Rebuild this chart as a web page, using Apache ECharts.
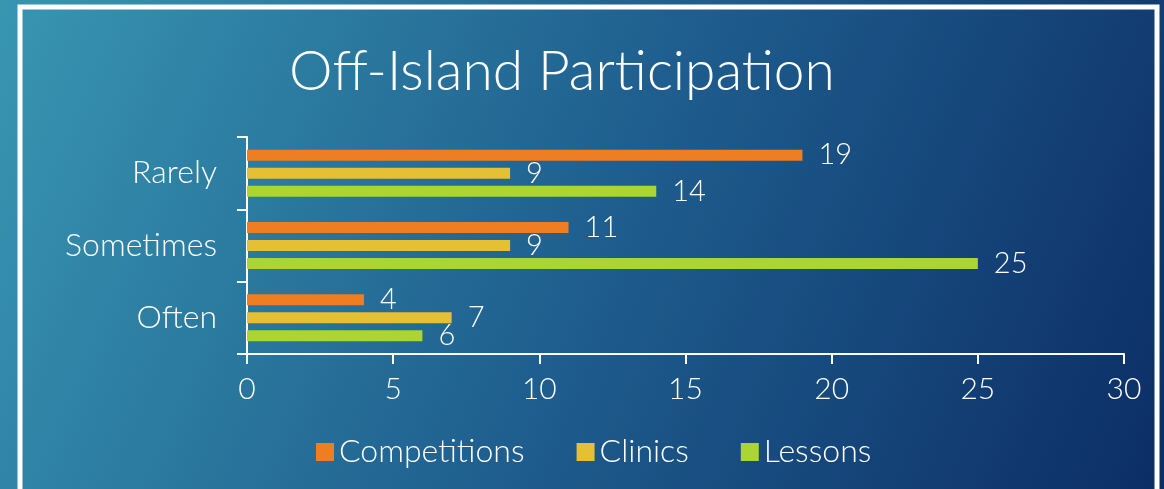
<!DOCTYPE html>
<html>
<head>
<meta charset="utf-8">
<title>Off-Island Participation</title>
<script src="https://cdn.jsdelivr.net/npm/echarts@6/dist/echarts.min.js"></script>
<style>
    html, body {
        margin: 0;
        padding: 0;
        width: 1164px;
        height: 489px;
        overflow: hidden;
    }
    #participationChart {
        width: 1164px;
        height: 489px;
    }
</style>
</head>
<body>
<div id="participationChart"></div>
<script>
// categories, bottom to top as the y axis draws them
const categories = ['Often', 'Sometimes', 'Rarely'];
const competitions = [4, 11, 19];
const clinics = [7, 9, 9];
const lessons = [6, 25, 14];
const xTicks = [0, 5, 10, 15, 20, 25, 30];

const FONT = 'Lato, "Noto Sans", sans-serif';
const TEXT = '#ffffff';

const chartDom = document.getElementById('participationChart');
const chart = echarts.init(chartDom, null, { renderer: 'canvas' });

const makeSeries = (name, data, color) => ({
    name: name,
    type: 'bar',
    data: data,
    barWidth: 11,
    barGap: '64%',
    itemStyle: {
        color: color
    },
    label: {
        show: true,
        position: 'right',
        distance: 16,
        color: TEXT,
        fontFamily: FONT,
        fontWeight: 300,
        fontSize: 29
    }
});

const option = {
    backgroundColor: new echarts.graphic.LinearGradient(0, 0, 1, 1, [
        { offset: 0, color: '#3896b1' },
        { offset: 0.5, color: '#1f5f8f' },
        { offset: 1, color: '#0c2d66' }
    ]),
    animation: false,
    textStyle: {
        fontFamily: FONT
    },
    graphic: [
        {
            type: 'rect',
            shape: { x: 20, y: 7, width: 1137, height: 520 },
            style: { fill: 'none', stroke: '#ffffff', lineWidth: 5 },
            silent: true
        }
    ],
    title: {
        text: 'Off-Island Participation',
        left: 284,
        top: 40,
        textStyle: {
            color: TEXT,
            fontFamily: FONT,
            fontWeight: 300,
            fontSize: 55
        }
    },
    legend: {
        data: ['Competitions', 'Clinics', 'Lessons'],
        left: 311,
        top: 431,
        icon: 'rect',
        itemWidth: 18,
        itemHeight: 18,
        itemGap: 52,
        textStyle: {
            color: TEXT,
            fontFamily: FONT,
            fontWeight: 300,
            fontSize: 32
        }
    },
    grid: {
        left: 247,
        right: 40,
        top: 137,
        bottom: 135
    },
    xAxis: {
        type: 'value',
        min: xTicks[0],
        max: xTicks[xTicks.length - 1],
        interval: 5,
        splitLine: { show: false },
        axisLine: {
            show: true,
            lineStyle: { color: '#ffffff', width: 2 }
        },
        axisTick: {
            show: true,
            length: 10,
            lineStyle: { color: '#ffffff', width: 2 }
        },
        axisLabel: {
            color: TEXT,
            fontFamily: FONT,
            fontWeight: 300,
            fontSize: 30,
            margin: 20
        }
    },
    yAxis: {
        type: 'category',
        data: categories,
        axisLine: {
            show: true,
            lineStyle: { color: '#ffffff', width: 2 }
        },
        axisTick: {
            show: true,
            length: 10,
            lineStyle: { color: '#ffffff', width: 2 }
        },
        axisLabel: {
            color: TEXT,
            fontFamily: FONT,
            fontWeight: 300,
            fontSize: 32,
            margin: 30
        }
    },
    series: [
        makeSeries('Competitions', competitions, '#ef7d22'),
        makeSeries('Clinics', clinics, '#e5c034'),
        makeSeries('Lessons', lessons, '#acd533')
    ]
};

chart.setOption(option);

window.addEventListener('resize', () => {
    chart.resize();
});
</script>
</body>
</html>
